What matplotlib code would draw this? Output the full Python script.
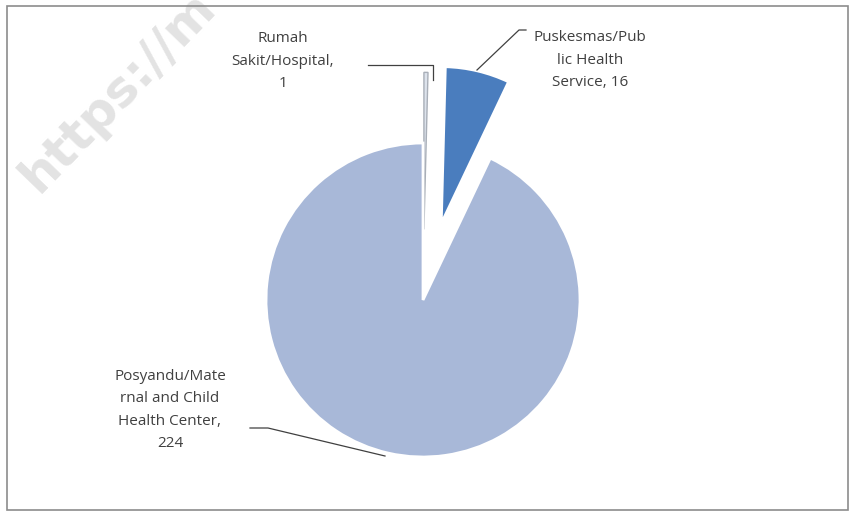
import matplotlib.pyplot as plt

# Jumlah tempat pelayanan
labels = ["Rumah\nSakit/Hospital,\n1",
          "Puskesmas/Pub\nlic Health\nService, 16",
          "Posyandu/Mate\nrnal and Child\nHealth Center,\n224"]
values = [1, 16, 224]
colors = ["#DDE3EC", "#4A7DBE", "#A8B8D8"]
explode_frac = [0.45, 0.5, 0.0]

W, H = 854, 514
fig = plt.figure(figsize=(W / 100, H / 100), dpi=100)
ax = fig.add_axes([0, 0, 1, 1])
ax.axis("off")

cx, cy, r = 423, H - 300, 157
# pie() memakai explode dalam satuan data, jadi dikali radius
wedges, _ = ax.pie(values, colors=colors,
                   explode=[e * r for e in explode_frac], startangle=90,
                   counterclock=False, center=(cx, cy), radius=r,
                   wedgeprops=dict(edgecolor="white", linewidth=2.0))
wedges[0].set_edgecolor("#A9AFB8")
wedges[0].set_linewidth(1.0)
ax.set_xlim(0, W)
ax.set_ylim(0, H)
ax.set_aspect("equal")

txt = dict(fontsize=11, color="#404040", family="Open Sans", ha="center",
           va="center", linespacing=1.65)
ax.text(283, H - 61, labels[0], **txt)
ax.text(590, H - 60, labels[1], **txt)
ax.text(170, H - 410, labels[2], **txt)

# garis penunjuk label
lc = dict(color="#404040", lw=0.9)
ax.plot([368, 433, 433], [H - 65, H - 65, H - 80], **lc)
ax.plot([526, 519, 477], [H - 30, H - 30, H - 70], **lc)
ax.plot([250, 268, 385], [H - 428, H - 428, H - 456], **lc)

# watermark
ax.text(118, H - 92, "https://m", rotation=46, fontsize=36, color="#E3E3E3",
        family="DejaVu Sans", fontweight="bold", ha="center", va="center",
        zorder=0)

# bingkai
ax.add_patch(plt.Rectangle((7, 4), W - 13, H - 10, fill=False,
                           edgecolor="#8C8C8C", lw=1.2, zorder=5))

fig.savefig("out.png", dpi=100)
